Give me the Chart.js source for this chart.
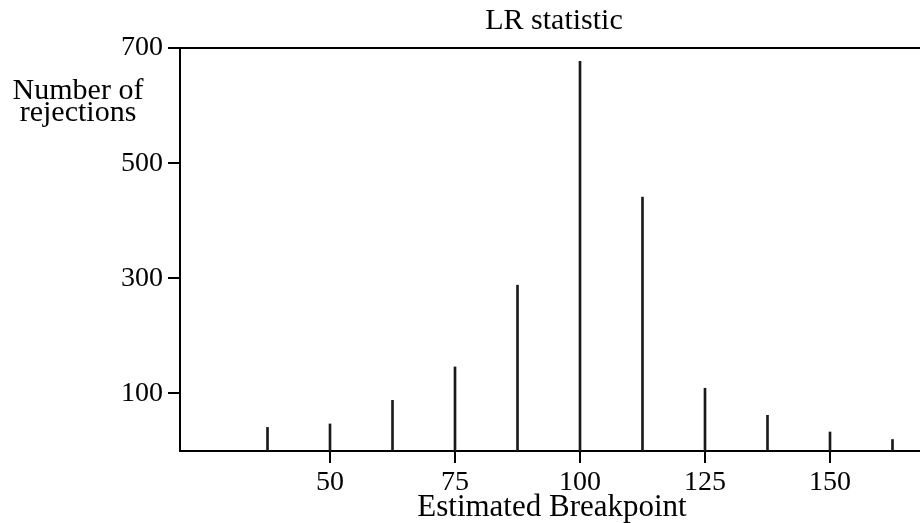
<!DOCTYPE html>
<html>
<head>
<meta charset="utf-8">
<script src="https://cdn.jsdelivr.net/npm/chart.js@4"></script>
<style>
  html, body { margin: 0; padding: 0; background: #fff; }
  #wrap { width: 920px; height: 523px; }
</style>
</head>
<body>
<div id="wrap"><canvas id="chart" width="920" height="523"></canvas></div>
<script>
// Estimated breakpoints and number of rejections
const breakpoints = [37.5, 50, 62.5, 75, 87.5, 100, 112.5, 125, 137.5, 150, 162.5];
const rejections = [41, 47, 88, 146, 288, 677, 441, 109, 62, 33, 20];

const xTicks = [50, 75, 100, 125, 150];
const yTicks = [100, 300, 500, 700];

const titleText = "LR statistic";
const xLabel = "Estimated Breakpoint";
const yLabel = ["Number of", "rejections"];

const FONT = "'Liberation Serif', 'DejaVu Serif', serif";

// Frame line on top, x ticks and the free-standing texts
const textPlugin = {
  id: "texts",
  afterDraw(chart) {
    const ctx = chart.ctx;
    const area = chart.chartArea;
    const xScale = chart.scales.x;
    ctx.save();
    ctx.fillStyle = "#000";
    ctx.textAlign = "center";
    ctx.textBaseline = "alphabetic";
    ctx.font = "30px " + FONT;
    ctx.fillText(titleText, 554, 29);
    ctx.fillText(yLabel[0], 78, 99);
    ctx.fillText(yLabel[1], 78, 121);
    ctx.font = "31px " + FONT;
    ctx.fillText(xLabel, 552, 516);

    // x tick labels, placed by the x scale
    ctx.font = "28px " + FONT;
    xTicks.forEach((v) => {
      ctx.fillText(String(v), xScale.getPixelForValue(v), 490);
    });

    ctx.strokeStyle = "#000";
    ctx.lineWidth = 2;
    ctx.beginPath();
    ctx.moveTo(area.left - 1, area.top);
    ctx.lineTo(area.right, area.top);
    ctx.stroke();

    // tick marks below the x axis
    ctx.beginPath();
    xTicks.forEach((v) => {
      const px = Math.round(xScale.getPixelForValue(v));
      ctx.moveTo(px, area.bottom);
      ctx.lineTo(px, area.bottom + 12);
    });
    ctx.stroke();
    ctx.restore();
  }
};

new Chart(document.getElementById("chart"), {
  type: "bar",
  data: {
    datasets: [
      {
        data: breakpoints.map((b, i) => ({ x: b, y: rejections[i] })),
        backgroundColor: "#1a1a1a",
        borderWidth: 0,
        barThickness: 2,
      },
    ],
  },
  options: {
    responsive: false,
    animation: false,
    layout: { padding: { top: 48, right: 0, left: 0, bottom: 0 } },
    plugins: {
      legend: { display: false },
      tooltip: { enabled: false },
    },
    scales: {
      x: {
        type: "linear",
        offset: false,
        min: 20,
        max: 168,
        afterBuildTicks: (scale) => {
          scale.ticks = xTicks.map((v) => ({ value: v }));
        },
        afterFit: (scale) => {
          scale.height = 72;
        },
        grid: { display: false },
        border: { display: true, color: "#000", width: 2 },
        ticks: { display: false },
      },
      y: {
        min: 0,
        max: 700,
        afterBuildTicks: (scale) => {
          scale.ticks = yTicks.map((v) => ({ value: v }));
        },
        afterFit: (scale) => {
          scale.width = 180;
        },
        grid: {
          drawOnChartArea: false,
          drawTicks: true,
          tickLength: 12,
          color: "#000",
          lineWidth: 2,
        },
        border: { display: true, color: "#000", width: 2 },
        ticks: {
          color: "#000",
          padding: 5,
          font: { family: FONT, size: 28 },
        },
      },
    },
  },
  plugins: [textPlugin],
});
</script>
</body>
</html>
